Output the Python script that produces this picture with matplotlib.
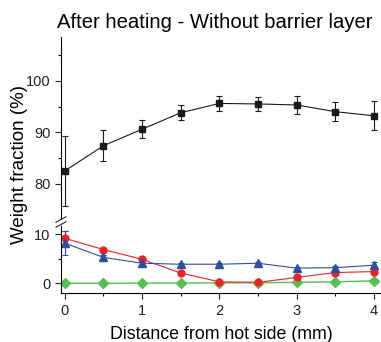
import matplotlib.pyplot as plt

plt.rcParams["font.family"] = ["Liberation Sans", "DejaVu Sans"]

# data
distance = [0, 0.5, 1, 1.5, 2, 2.5, 3, 3.5, 4]

black = [82.5, 87.4, 90.6, 93.8, 95.6, 95.5, 95.3, 94.0, 93.2]
black_err = [6.8, 3.0, 1.8, 1.5, 1.4, 1.4, 1.7, 1.9, 2.8]

red = [9.2, 6.9, 4.9, 2.1, 0.3, 0.2, 1.2, 2.2, 2.4]
red_err = [1.4, 0.4, 0.3, 0.2, 0.1, 0.1, 0.2, 0.2, 0.2]

blue = [8.2, 5.3, 4.1, 3.9, 3.9, 4.1, 3.1, 3.2, 3.7]
blue_err = [2.4, 0.4, 0.3, 0.2, 0.2, 0.2, 0.3, 0.3, 0.7]

green = [0.0, 0.0, 0.05, 0.05, 0.1, 0.1, 0.2, 0.3, 0.5]

fig = plt.figure(figsize=(3.81, 3.42), dpi=100)

left, width = 0.160, 0.84
ax_top = fig.add_axes([left, 0.360, width, 0.532])
ax_bot = fig.add_axes([left, 0.143, width, 0.196])

# ---------------------------------------------------------
# Upper panel: main component
# ---------------------------------------------------------
ax_top.errorbar(distance, black, yerr=black_err, color="#1a1a1a", marker="s",
                markersize=4.5, linewidth=0.8, elinewidth=0.8, capsize=2.5,
                capthick=0.8)
ax_top.set_ylim(73.2, 108.5)
ax_top.set_yticks([80, 90, 100])
ax_top.set_yticks([85, 95, 105], minor=True)

# ---------------------------------------------------------
# Lower panel: minor components
# ---------------------------------------------------------
ax_bot.errorbar(distance, green, color="#55c055", marker="D", markersize=4.6,
                linewidth=1.0)
ax_bot.errorbar(distance, red, yerr=red_err, color="#ee2222", marker="o",
                markersize=5, linewidth=0.8, elinewidth=0.8, capsize=2.5,
                capthick=0.8)
ax_bot.errorbar(distance, blue, yerr=blue_err, color="#2e4f9e", marker="^",
                markersize=5.5, linewidth=0.8, elinewidth=0.8, capsize=2.5,
                capthick=0.8)
ax_bot.set_ylim(-2.0, 11.7)
ax_bot.set_yticks([0, 10])
ax_bot.set_yticks([5], minor=True)

for ax in (ax_top, ax_bot):
    ax.set_xlim(-0.05, 4.09)
    ax.spines["right"].set_visible(False)
    ax.spines["top"].set_visible(False)
    ax.tick_params(which="major", direction="out", length=4, width=0.8,
                   labelsize=10.5, colors="#222222")
    ax.tick_params(which="minor", direction="out", length=2.5, width=0.8)
    ax.patch.set_visible(False)

ax_top.spines["bottom"].set_visible(False)
ax_top.tick_params(axis="x", which="both", bottom=False, labelbottom=False)

ax_bot.set_xticks([0, 1, 2, 3, 4])
ax_bot.set_xticks([0.5, 1.5, 2.5, 3.5], minor=True)
ax_bot.set_xlabel("Distance from hot side (mm)", fontsize=12.8, labelpad=6)

# break marks on the left spine
for y in (219.5, 224.5):
    yf = 1 - y / 342
    fig.add_artist(plt.Line2D([left - 0.013, left + 0.013],
                              [yf - 0.008, yf + 0.008],
                              color="#222222", linewidth=0.8))

fig.text(0.052, 0.52, "Weight fraction (%)", rotation=90, fontsize=13.5,
         ha="center", va="center")
fig.text(0.150, 0.918, "After heating - Without barrier layer", fontsize=14.6,
         ha="left", va="baseline")

fig.savefig("out.png", dpi=100)
